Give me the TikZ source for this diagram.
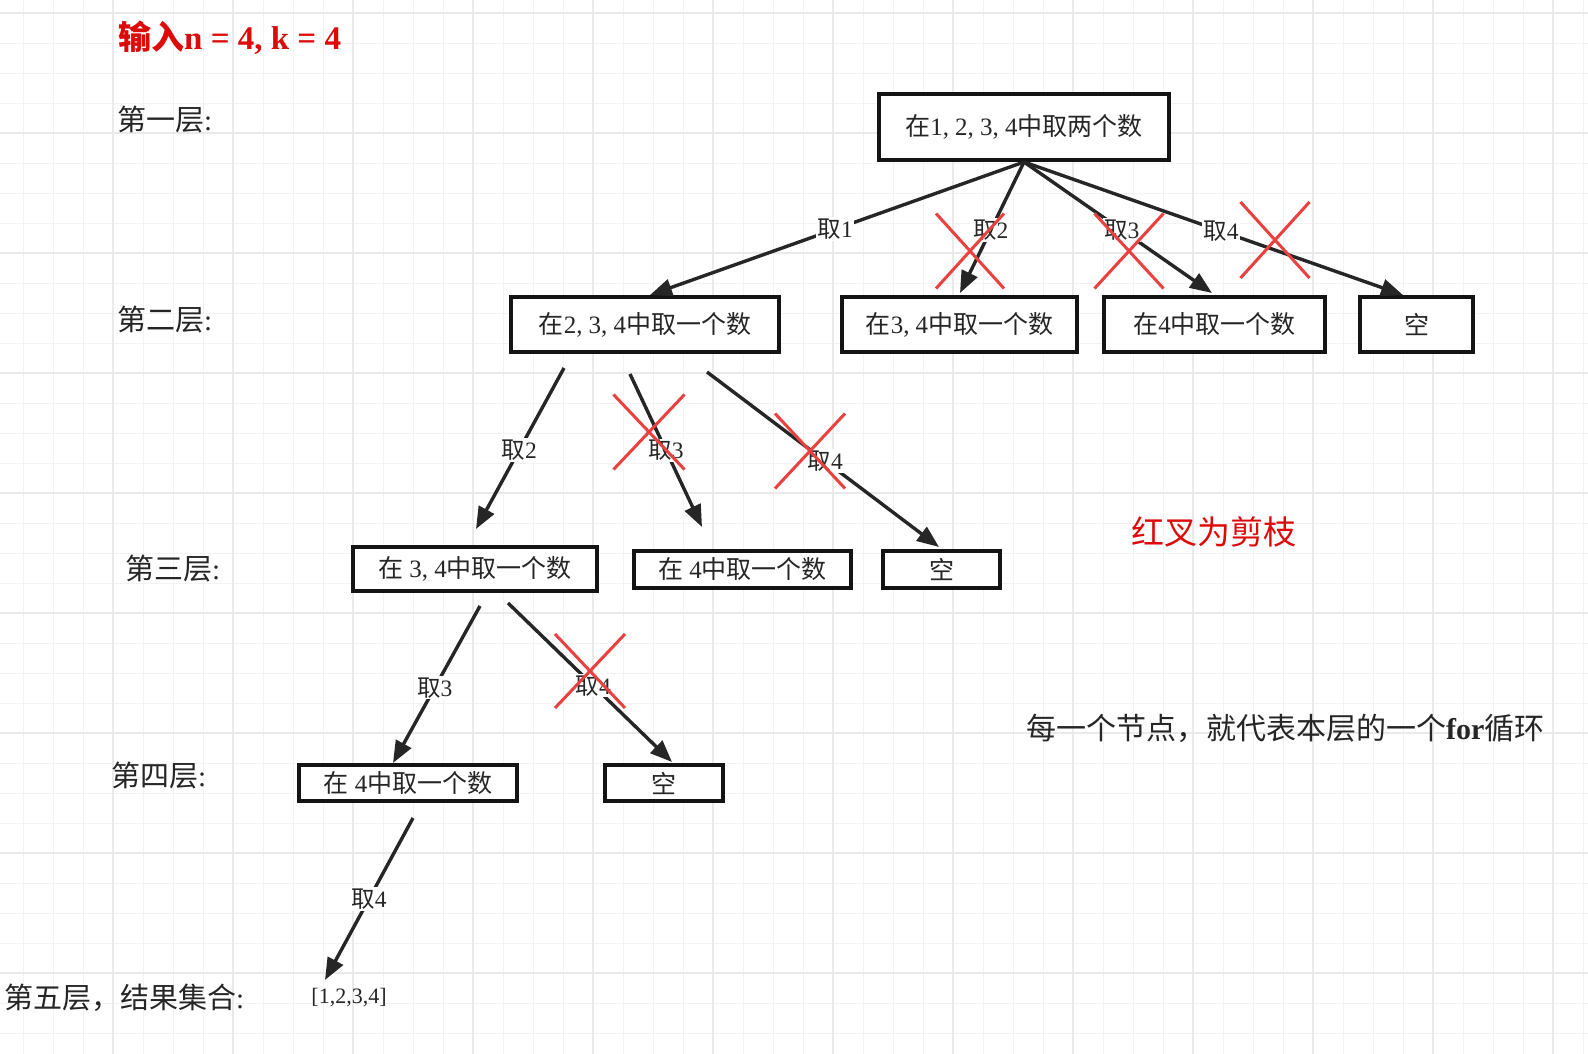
\documentclass[tikz,border=0pt]{standalone}
\usepackage{fontspec}
\setmainfont{Liberation Serif}
\newfontfamily\cjk{Noto Sans CJK SC}
\usetikzlibrary{arrows.meta,shapes.misc}
\newcommand\zh[1]{{\cjk #1}}
\definecolor{gridminor}{HTML}{F3F3F3}
\definecolor{gridmajor}{HTML}{EAEAEA}
\definecolor{ink}{HTML}{262626}
\definecolor{xred}{HTML}{E8413F}
\definecolor{titlered}{HTML}{DD0A0A}
\begin{document}
\begin{tikzpicture}[x=1pt,y=-1pt,
  box/.style={draw=black!92, line width=4pt, fill=white, inner sep=0pt, text=ink, font=\fontsize{25}{30}\selectfont},
  edge/.style={draw=ink, line width=3.4pt, -{Triangle[length=22pt,width=17pt]}},
  elabel/.style={fill=white, inner sep=1.5pt, text=ink, font=\fontsize{23.5}{27}\selectfont},
  cut/.style={cross out, draw=xred, line width=3pt, inner sep=0pt},
  layer/.style={anchor=west, text=ink, font=\fontsize{29}{34}\selectfont, inner sep=0pt},
]
\useasboundingbox (0,0) rectangle (1588,1054);
\fill[white] (0,0) rectangle (1588,1054);
% grid
\foreach \i in {0,...,52} {\draw[gridminor, line width=1.5pt] ({23.333+30*\i},0) -- ({23.333+30*\i},1054);}
\foreach \i in {0,...,34} {\draw[gridminor, line width=1.5pt] (0,{13.333+30*\i}) -- (1588,{13.333+30*\i});}
\foreach \i in {0,...,12} {\draw[gridmajor, line width=1.8pt] ({113.333+120*\i},0) -- ({113.333+120*\i},1054);}
\foreach \i in {0,...,8} {\draw[gridmajor, line width=1.8pt] (0,{13.333+120*\i}) -- (1588,{13.333+120*\i});}

% title and side texts
\node[anchor=west, inner sep=0pt, text=titlered, font=\fontsize{33}{37}\selectfont\bfseries] (title) at (118,38) {\zh{输入}n = 4, k = 4};
\node[layer] (lay1) at (117,120) {\zh{第一层}:};
\node[layer] (lay2) at (117,320) {\zh{第二层}:};
\node[layer] (lay3) at (125,569) {\zh{第三层}:};
\node[layer] (lay4) at (111,776) {\zh{第四层}:};
\node[layer] (lay5) at (4,998) {\zh{第五层，结果集合}:};
\node[inner sep=0pt, text=titlered, font=\fontsize{33}{38}\selectfont] (legend) at (1214,532) {\zh{红叉为剪枝}};
\node[anchor=west, inner sep=0pt, text=ink, font=\fontsize{30}{34}\selectfont] (note) at (1026,728) {\zh{每一个节点，就代表本层的一个}\textbf{for}\zh{循环}};

% nodes
\node[box, minimum width=290pt, minimum height=66pt] (root) at (1024,127) {\zh{在}1, 2, 3, 4\zh{中取两个数}};
\node[box, minimum width=268pt, minimum height=55pt] (l2a) at (645,324.5) {\zh{在}2, 3, 4\zh{中取一个数}};
\node[box, minimum width=235pt, minimum height=55pt] (l2b) at (959.5,324.5) {\zh{在}3, 4\zh{中取一个数}};
\node[box, minimum width=221pt, minimum height=55pt] (l2c) at (1214.5,324.5) {\zh{在}4\zh{中取一个数}};
\node[box, minimum width=113pt, minimum height=55pt] (l2d) at (1416.5,324.5) {\zh{空}};
\node[box, minimum width=244pt, minimum height=44pt] (l3a) at (475,569) {\zh{在} 3, 4\zh{中取一个数}};
\node[box, minimum width=217pt, minimum height=37pt] (l3b) at (742.5,569.5) {\zh{在} 4\zh{中取一个数}};
\node[box, minimum width=117pt, minimum height=37pt] (l3c) at (941.5,569.5) {\zh{空}};
\node[box, minimum width=218pt, minimum height=36pt] (l4a) at (408,783) {\zh{在} 4\zh{中取一个数}};
\node[box, minimum width=118pt, minimum height=36pt] (l4b) at (664,783) {\zh{空}};
\node[inner sep=0pt, text=ink, font=\fontsize{22}{25}\selectfont] (res) at (349,998) {[1,2,3,4]};

% connector end points
\coordinate (t1) at (650,295);
\coordinate (t2) at (960,293);
\coordinate (t3) at (1212,293);
\coordinate (t4) at (1403,295);
\coordinate (s5) at (564,368);  \coordinate (t5) at (476,529);
\coordinate (s6) at (630,374);  \coordinate (t6) at (702,527);
\coordinate (s7) at (707,372);  \coordinate (t7) at (939,547);
\coordinate (s8) at (480,606);  \coordinate (t8) at (393,763);
\coordinate (s9) at (508,603);  \coordinate (t9) at (672,762);
\coordinate (s10) at (413,818); \coordinate (t10) at (325,980);

% connectors
\draw[edge] (root.south) -- node[elabel, pos=0.505] (lb1) {\zh{取}1} (t1);
\draw[edge] (root.south) -- node[elabel, pos=0.52] (lb2) {\zh{取}2} (t2);
\draw[edge] (root.south) -- node[elabel, pos=0.52] (lb3) {\zh{取}3} (t3);
\draw[edge] (root.south) -- node[elabel, pos=0.52] (lb4) {\zh{取}4} (t4);
\draw[edge] (s5) -- node[elabel, pos=0.51] (lb5) {\zh{取}2} (t5);
\draw[edge] (s6) -- node[elabel, pos=0.5] (lb6) {\zh{取}3} (t6);
\draw[edge] (s7) -- node[elabel, pos=0.51] (lb7) {\zh{取}4} (t7);
\draw[edge] (s8) -- node[elabel, pos=0.52] (lb8) {\zh{取}3} (t8);
\draw[edge] (s9) -- node[elabel, pos=0.52] (lb9) {\zh{取}4} (t9);
\draw[edge] (s10) -- node[elabel, pos=0.5] (lb10) {\zh{取}4} (t10);

% red crosses (pruned branches)
\node[cut, minimum width=65pt, minimum height=72pt] (x1) at (970,251) {};
\node[cut, minimum width=66pt, minimum height=72pt] (x2) at (1129,251) {};
\node[cut, minimum width=66pt, minimum height=73pt] (x3) at (1275,240) {};
\node[cut, minimum width=68pt, minimum height=72pt] (x4) at (649,432) {};
\node[cut, minimum width=67pt, minimum height=72pt] (x5) at (810,451) {};
\node[cut, minimum width=67pt, minimum height=71pt] (x6) at (590,671) {};
\end{tikzpicture}
\end{document}
